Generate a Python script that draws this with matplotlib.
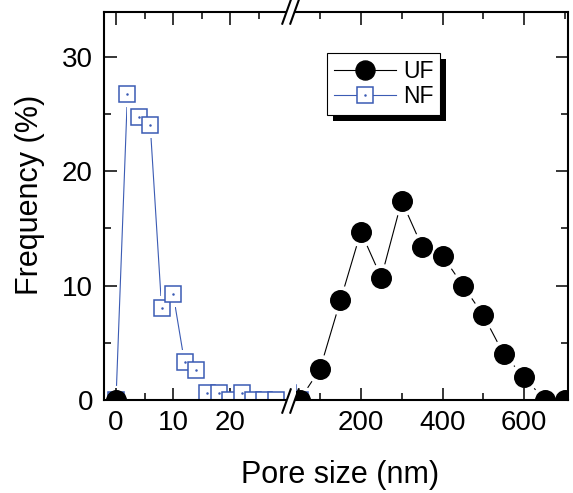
import matplotlib
matplotlib.use("Agg")
import matplotlib.pyplot as plt
from matplotlib.lines import Line2D
from matplotlib.patches import Rectangle
from matplotlib.legend_handler import HandlerTuple
from matplotlib.ticker import MultipleLocator

plt.rcParams['font.family'] = ['Liberation Sans', 'DejaVu Sans']

# Pore size distributions (frequency in %)
uf_size = [0, 50, 100, 150, 200, 250, 300, 350, 400, 450, 500, 550, 600, 650, 700]
uf_freq = [0, 0, 2.7, 8.7, 14.7, 10.7, 17.4, 13.4, 12.6, 10.0, 7.4, 4.0, 2.0, 0, 0]
nf_size = [0, 2, 4, 6, 8, 10, 12, 14, 16, 18, 20, 22, 24, 26, 28, 50]
nf_freq = [0, 26.7, 24.7, 24.0, 8.0, 9.3, 3.3, 2.65, 0.65, 0.65, 0, 0.65, 0, 0, 0, 0]

left_ticks = [0, 10, 20]
right_ticks = [200, 400, 600]
y_ticks = [0, 10, 20, 30]

BLUE = '#3B5BB4'
W, H = 573, 493
fig = plt.figure(figsize=(W / 100, H / 100), dpi=100)

# broken x axis: two panels sharing the frequency scale
y_top, y_bot = 12, 400
ax1_l, ax1_r = 104, 285
ax2_l, ax2_r = 296, 568
ax1 = fig.add_axes([ax1_l / W, 1 - y_bot / H, (ax1_r - ax1_l) / W, (y_bot - y_top) / H])
ax2 = fig.add_axes([ax2_l / W, 1 - y_bot / H, (ax2_r - ax2_l) / W, (y_bot - y_top) / H])

ax1.set_xlim(-2.1, 29.6)
ax2.set_xlim(41.2, 707.3)
for ax in (ax1, ax2):
    ax.set_ylim(0, 33.9)
    ax.set_axisbelow(False)
    ax.yaxis.set_major_locator(MultipleLocator(10))
    ax.yaxis.set_minor_locator(MultipleLocator(5))
    for sp in ax.spines.values():
        sp.set_linewidth(1.5)
        sp.set_zorder(2.8)
    ax.tick_params(which='both', direction='in', width=1.1, labelsize=20,
                   top=True, pad=7)
    ax.tick_params(which='major', length=9)
    ax.tick_params(which='minor', length=5)

ax1.spines['right'].set_visible(False)
ax2.spines['left'].set_visible(False)
ax1.tick_params(axis='y', which='both', left=True, right=False, pad=8)
ax2.tick_params(axis='y', which='both', left=False, right=True, labelleft=False)

ax1.set_xticks(left_ticks)
ax1.xaxis.set_minor_locator(MultipleLocator(5))
ax1.set_yticks(y_ticks)
ax2.set_xticks(right_ticks)
ax2.xaxis.set_minor_locator(MultipleLocator(100))


def draw_series(ax, x, y, color, marker, ms, halo, face, center_dot=False):
    ax.plot(x, y, color=color, lw=0.8, zorder=2.0)
    # white halo leaves a small gap between the connecting line and the symbol
    ax.plot(x, y, ls='none', marker=marker, ms=ms + halo, mfc='white',
            mec='white', mew=0, zorder=2.2)
    ax.plot(x, y, ls='none', marker=marker, ms=ms, mfc=face, mec=color,
            mew=1.1, zorder=2.6)
    if center_dot:
        ax.plot(x, y, ls='none', marker='.', ms=1.6, color=color, zorder=2.65)


for ax in (ax1, ax2):
    draw_series(ax, nf_size, nf_freq, BLUE, 's', 11.0, 7.0, 'white', center_dot=True)
    draw_series(ax, uf_size, uf_freq, 'black', 'o', 14.0, 7.0, 'black')

# break marks on top and bottom frame lines
cx = (ax1_r + ax2_l) / 2
for yy in (y_top, y_bot + 1):
    for dx in (-4, 4):
        xm = cx + dx
        fig.add_artist(Line2D([(xm - 4.2) / W, (xm + 4.2) / W],
                              [1 - (yy + 11.7) / H, 1 - (yy - 11.7) / H],
                              color='black', lw=1.5, transform=fig.transFigure))

# axis titles
fig.text(30 / W, 1 - 195 / H, 'Frequency (%)', rotation=90, ha='center',
         va='center', fontsize=22)
fig.text(340 / W, 1 - 483.5 / H, 'Pore size (nm)', ha='center',
         va='baseline', fontsize=22)

# legend
uf_h = Line2D([], [], color='black', lw=0.8, marker='o', ms=13.7, mfc='black', mec='black')
nf_h = Line2D([], [], color=BLUE, lw=0.8, marker='s', ms=11.0, mfc='white', mec=BLUE, mew=1.1)
nf_dot = Line2D([], [], ls='none', marker='.', ms=1.6, color=BLUE)
leg = ax2.legend([uf_h, (nf_h, nf_dot)], ['UF', 'NF'],
                 handler_map={tuple: HandlerTuple(ndivide=1, pad=0)},
                 loc='upper left', bbox_to_anchor=(327.3 / W, 1 - 53.3 / H),
                 bbox_transform=fig.transFigure, borderaxespad=0,
                 fontsize=16.5, handlelength=2.7, handletextpad=0.3,
                 borderpad=0.3, labelspacing=0.1, frameon=True,
                 fancybox=False, framealpha=1, edgecolor='black')
leg.get_frame().set_linewidth(0.8)
leg.set_zorder(5)

fig.canvas.draw()
bb = leg.get_window_extent().transformed(ax2.transAxes.inverted())
ax_w_px = ax2_r - ax2_l
ax_h_px = y_bot - y_top
shadow = Rectangle((bb.x0 + 6 / ax_w_px, bb.y0 - 6 / ax_h_px), bb.width, bb.height,
                   transform=ax2.transAxes, facecolor='black', edgecolor='none',
                   zorder=4.9, clip_on=False)
ax2.add_patch(shadow)

fig.savefig('out.png', dpi=100, facecolor='white')
